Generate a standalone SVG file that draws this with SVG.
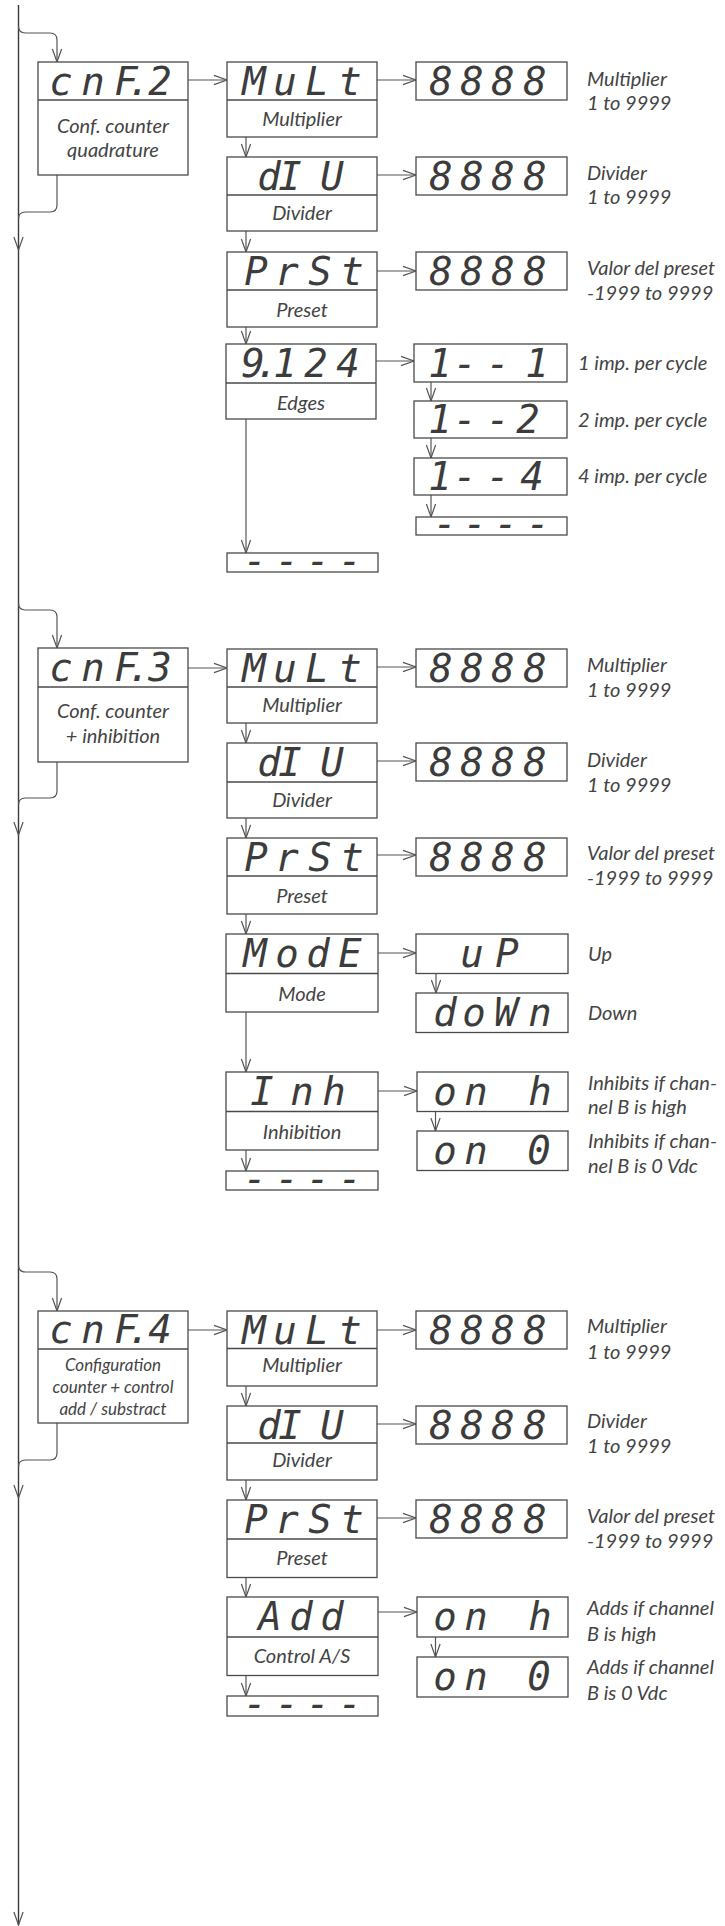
<svg xmlns="http://www.w3.org/2000/svg" width="725" height="1926" viewBox="0 0 725 1926">
<defs>
<style>
.bg{fill:#ffffff}
.box{fill:#ffffff;stroke:#4a4a4a;stroke-width:1.3}
.dv{fill:none;stroke:#4a4a4a;stroke-width:1.3}
.ln{fill:none;stroke:#555555;stroke-width:1.2}
.main{fill:none;stroke:#3a3a3a;stroke-width:1.4}
.seg{font-family:"DejaVu Sans Mono",monospace;font-style:oblique;font-size:39px;fill:#3c3c3c;text-anchor:middle}
.lbl{font-family:Lato,"Open Sans",sans-serif;font-style:italic;font-size:20px;fill:#444444}
.c{text-anchor:middle}
.sm{font-size:17px}
</style>
<marker id="ah" markerUnits="userSpaceOnUse" markerWidth="16" markerHeight="12" viewBox="-15 -6 16 12" refX="0" refY="0" orient="auto" overflow="visible">
<path d="M-13,-4.6 L0,0 L-13,4.6" fill="none" stroke="#555555" stroke-width="1.2"/>
</marker>
</defs>
<rect class="bg" x="0" y="0" width="725" height="1926"/>

<g id="connectors">
<path class="main" d="M18.5,5 V250" marker-end="url(#ah)"/>
<path class="main" d="M18.5,250 V835" marker-end="url(#ah)"/>
<path class="main" d="M18.5,835 V1498" marker-end="url(#ah)"/>
<path class="main" d="M18.5,1498 V1925" marker-end="url(#ah)"/>
<path class="ln" d="M18.5,26 Q18.5,33 25.5,33 H50 Q57,33 57,40 V62" marker-end="url(#ah)"/>
<path class="ln" d="M57,175 V205 Q57,212 50,212 H25.5 Q18.5,212 18.5,219"/>
<path class="ln" d="M188,80 H227" marker-end="url(#ah)"/>
<path class="ln" d="M377,80 H416" marker-end="url(#ah)"/>
<path class="ln" d="M246,137 V157" marker-end="url(#ah)"/>
<path class="ln" d="M377,175 H416" marker-end="url(#ah)"/>
<path class="ln" d="M246,231 V252" marker-end="url(#ah)"/>
<path class="ln" d="M377,271 H416" marker-end="url(#ah)"/>
<path class="ln" d="M246,327 V344" marker-end="url(#ah)"/>
<path class="ln" d="M376,361 H414" marker-end="url(#ah)"/>
<path class="ln" d="M431,382 V401" marker-end="url(#ah)"/>
<path class="ln" d="M431,438 V458" marker-end="url(#ah)"/>
<path class="ln" d="M431,495 V517" marker-end="url(#ah)"/>
<path class="ln" d="M246,419 V553" marker-end="url(#ah)"/>
<path class="ln" d="M18.5,603 Q18.5,610 25.5,610 H50 Q57,610 57,617 V648" marker-end="url(#ah)"/>
<path class="ln" d="M57,762 V791 Q57,798 50,798 H25.5 Q18.5,798 18.5,805"/>
<path class="ln" d="M188,668 H227" marker-end="url(#ah)"/>
<path class="ln" d="M377,667 H416" marker-end="url(#ah)"/>
<path class="ln" d="M246,723 V743" marker-end="url(#ah)"/>
<path class="ln" d="M377,761 H416" marker-end="url(#ah)"/>
<path class="ln" d="M246,818 V838" marker-end="url(#ah)"/>
<path class="ln" d="M377,855 H416" marker-end="url(#ah)"/>
<path class="ln" d="M246,914 V934" marker-end="url(#ah)"/>
<path class="ln" d="M378,953 H416" marker-end="url(#ah)"/>
<path class="ln" d="M436,973.5 V993" marker-end="url(#ah)"/>
<path class="ln" d="M246,1012 V1072" marker-end="url(#ah)"/>
<path class="ln" d="M378,1091 H417" marker-end="url(#ah)"/>
<path class="ln" d="M435.5,1111.5 V1131" marker-end="url(#ah)"/>
<path class="ln" d="M246,1150 V1171" marker-end="url(#ah)"/>
<path class="ln" d="M18.5,1265 Q18.5,1272 25.5,1272 H50 Q57,1272 57,1279 V1311" marker-end="url(#ah)"/>
<path class="ln" d="M57,1423 V1453 Q57,1460 50,1460 H25.5 Q18.5,1460 18.5,1467"/>
<path class="ln" d="M188,1330 H227" marker-end="url(#ah)"/>
<path class="ln" d="M377,1330 H416" marker-end="url(#ah)"/>
<path class="ln" d="M246,1386 V1406" marker-end="url(#ah)"/>
<path class="ln" d="M377,1424 H416" marker-end="url(#ah)"/>
<path class="ln" d="M246,1480 V1500" marker-end="url(#ah)"/>
<path class="ln" d="M377,1518 H416" marker-end="url(#ah)"/>
<path class="ln" d="M246,1577.5 V1597" marker-end="url(#ah)"/>
<path class="ln" d="M378,1612 H417" marker-end="url(#ah)"/>
<path class="ln" d="M435.5,1637 V1657" marker-end="url(#ah)"/>
<path class="ln" d="M246,1676 V1696" marker-end="url(#ah)"/>
</g>

<g id="cnf2">
<rect class="box" x="38" y="62" width="150" height="113"/>
<path class="dv" d="M38,100 H188"/>
<text class="seg" x="61 93 126 139 160" y="95">cnF.2</text>
<text class="lbl c" x="113" y="133">Conf. counter</text>
<text class="lbl c" x="113" y="157">quadrature</text>
</g>
<g id="s1-mult">
<rect class="box" x="227" y="62" width="150" height="75"/>
<path class="dv" d="M227,100 H377"/>
<text class="seg" x="254 285 317 350" y="95">MuLt</text>
<text class="lbl c" x="302" y="126">Multiplier</text>
</g>
<g id="s1-mult-val">
<rect class="box" x="416" y="62" width="151" height="38"/>
<text class="seg" x="441 472 503 535" y="95">8888</text>
<text class="lbl" x="587" y="86">Multiplier</text>
<text class="lbl" x="587" y="110">1 to 9999</text>
</g>
<g id="s1-div">
<rect class="box" x="227" y="157" width="150" height="74"/>
<path class="dv" d="M227,195 H377"/>
<text class="seg" x="269 290 332" y="190">dIU</text>
<text class="lbl c" x="302" y="220">Divider</text>
</g>
<g id="s1-div-val">
<rect class="box" x="416" y="157" width="151" height="38"/>
<text class="seg" x="441 472 503 535" y="190">8888</text>
<text class="lbl" x="587" y="180">Divider</text>
<text class="lbl" x="587" y="204">1 to 9999</text>
</g>
<g id="s1-prst">
<rect class="box" x="227" y="252" width="150" height="75"/>
<path class="dv" d="M227,290 H377"/>
<text class="seg" x="256 287 320 352" y="285">PrSt</text>
<text class="lbl c" x="302" y="317">Preset</text>
</g>
<g id="s1-prst-val">
<rect class="box" x="416" y="252" width="151" height="38"/>
<text class="seg" x="441 472 503 535" y="285">8888</text>
<text class="lbl" x="587" y="275">Valor del preset</text>
<text class="lbl" x="587" y="300">-1999 to 9999</text>
</g>
<g id="s1-edges">
<rect class="box" x="226" y="344" width="150" height="75"/>
<path class="dv" d="M226,383 H376"/>
<text class="seg" x="253 267 285 316 348" y="377">9.124</text>
<text class="lbl c" x="301" y="410">Edges</text>
</g>
<g id="s1-e1">
<rect class="box" x="414" y="344" width="153" height="38"/>
<text class="seg" x="440 465 498 537" y="377">1--1</text>
<text class="lbl" x="578" y="370">1 imp. per cycle</text>
</g>
<g id="s1-e2">
<rect class="box" x="414" y="401" width="153" height="37"/>
<text class="seg" x="440 465 498 528" y="433">1--2</text>
<text class="lbl" x="578" y="427">2 imp. per cycle</text>
</g>
<g id="s1-e4">
<rect class="box" x="414" y="458" width="153" height="37"/>
<text class="seg" x="440 465 498 532" y="490">1--4</text>
<text class="lbl" x="578" y="483">4 imp. per cycle</text>
</g>
<g id="s1-e-end">
<rect class="box" x="416" y="517" width="151" height="18"/>
<text class="seg" x="445 475 506 538" y="537">----</text>
</g>
<g id="s1-end">
<rect class="box" x="227" y="553" width="151" height="19"/>
<text class="seg" x="255 287 318 350" y="574">----</text>
</g>

<g id="cnf3">
<rect class="box" x="38" y="648" width="150" height="114"/>
<path class="dv" d="M38,687 H188"/>
<text class="seg" x="61 93 126 139 160" y="681">cnF.3</text>
<text class="lbl c" x="113" y="718">Conf. counter</text>
<text class="lbl c" x="113" y="743">+ inhibition</text>
</g>
<g id="s2-mult">
<rect class="box" x="227" y="649" width="150" height="74"/>
<path class="dv" d="M227,687 H377"/>
<text class="seg" x="254 285 317 350" y="682">MuLt</text>
<text class="lbl c" x="302" y="712">Multiplier</text>
</g>
<g id="s2-mult-val">
<rect class="box" x="416" y="649" width="151" height="38"/>
<text class="seg" x="441 472 503 535" y="682">8888</text>
<text class="lbl" x="587" y="672">Multiplier</text>
<text class="lbl" x="587" y="697">1 to 9999</text>
</g>
<g id="s2-div">
<rect class="box" x="227" y="743" width="150" height="75"/>
<path class="dv" d="M227,782 H377"/>
<text class="seg" x="269 290 332" y="776">dIU</text>
<text class="lbl c" x="302" y="807">Divider</text>
</g>
<g id="s2-div-val">
<rect class="box" x="416" y="743" width="151" height="38"/>
<text class="seg" x="441 472 503 535" y="776">8888</text>
<text class="lbl" x="587" y="767">Divider</text>
<text class="lbl" x="587" y="792">1 to 9999</text>
</g>
<g id="s2-prst">
<rect class="box" x="227" y="838" width="150" height="76"/>
<path class="dv" d="M227,876 H377"/>
<text class="seg" x="256 287 320 352" y="871">PrSt</text>
<text class="lbl c" x="302" y="903">Preset</text>
</g>
<g id="s2-prst-val">
<rect class="box" x="416" y="838" width="151" height="38"/>
<text class="seg" x="441 472 503 535" y="871">8888</text>
<text class="lbl" x="587" y="860">Valor del preset</text>
<text class="lbl" x="587" y="885">-1999 to 9999</text>
</g>
<g id="s2-mode">
<rect class="box" x="226" y="934" width="152" height="78"/>
<path class="dv" d="M226,973.5 H378"/>
<text class="seg" x="255 287 318 350" y="967">ModE</text>
<text class="lbl c" x="302" y="1001">Mode</text>
</g>
<g id="s2-up">
<rect class="box" x="416" y="934" width="152" height="39.5"/>
<text class="seg" x="472 507" y="967">uP</text>
<text class="lbl" x="588" y="961">Up</text>
</g>
<g id="s2-down">
<rect class="box" x="416" y="993" width="152" height="39.5"/>
<text class="seg" x="445 474 506 540" y="1026">doWn</text>
<text class="lbl" x="588" y="1020">Down</text>
</g>
<g id="s2-inh">
<rect class="box" x="226" y="1072" width="152" height="78"/>
<path class="dv" d="M226,1111.5 H378"/>
<text class="seg" x="262 302 334" y="1105">Inh</text>
<text class="lbl c" x="302" y="1139">Inhibition</text>
</g>
<g id="s2-onh">
<rect class="box" x="417" y="1072" width="151" height="39.5"/>
<text class="seg" x="445 476 540" y="1105">onh</text>
<text class="lbl" x="588" y="1090">Inhibits if  chan-</text>
<text class="lbl" x="588" y="1114">nel B is high</text>
</g>
<g id="s2-on0">
<rect class="box" x="417" y="1131" width="151" height="39.5"/>
<text class="seg" x="445 476 539" y="1164">on0</text>
<text class="lbl" x="588" y="1148">Inhibits if chan-</text>
<text class="lbl" x="588" y="1173">nel B is 0 Vdc</text>
</g>
<g id="s2-end">
<rect class="box" x="226" y="1171" width="152" height="19"/>
<text class="seg" x="255 287 318 350" y="1192">----</text>
</g>

<g id="cnf4">
<rect class="box" x="38" y="1311" width="150" height="112"/>
<path class="dv" d="M38,1349 H188"/>
<text class="seg" x="61 93 126 139 160" y="1343">cnF.4</text>
<text class="lbl sm c" x="113" y="1371">Configuration</text>
<text class="lbl sm c" x="113" y="1393">counter + control</text>
<text class="lbl sm c" x="113" y="1415">add / substract</text>
</g>
<g id="s3-mult">
<rect class="box" x="227" y="1311" width="150" height="75"/>
<path class="dv" d="M227,1348.5 H377"/>
<text class="seg" x="254 285 317 350" y="1344">MuLt</text>
<text class="lbl c" x="302" y="1372">Multiplier</text>
</g>
<g id="s3-mult-val">
<rect class="box" x="416" y="1311" width="151" height="38"/>
<text class="seg" x="441 472 503 535" y="1344">8888</text>
<text class="lbl" x="587" y="1333">Multiplier</text>
<text class="lbl" x="587" y="1359">1 to 9999</text>
</g>
<g id="s3-div">
<rect class="box" x="227" y="1406" width="150" height="74"/>
<path class="dv" d="M227,1443 H377"/>
<text class="seg" x="269 290 332" y="1439">dIU</text>
<text class="lbl c" x="302" y="1467">Divider</text>
</g>
<g id="s3-div-val">
<rect class="box" x="416" y="1406" width="151" height="38"/>
<text class="seg" x="441 472 503 535" y="1439">8888</text>
<text class="lbl" x="587" y="1428">Divider</text>
<text class="lbl" x="587" y="1453">1 to 9999</text>
</g>
<g id="s3-prst">
<rect class="box" x="227" y="1500" width="150" height="77.5"/>
<path class="dv" d="M227,1539 H377"/>
<text class="seg" x="256 287 320 352" y="1533">PrSt</text>
<text class="lbl c" x="302" y="1565">Preset</text>
</g>
<g id="s3-prst-val">
<rect class="box" x="416" y="1500" width="151" height="38"/>
<text class="seg" x="441 472 503 535" y="1533">8888</text>
<text class="lbl" x="587" y="1523">Valor del preset</text>
<text class="lbl" x="587" y="1548">-1999 to 9999</text>
</g>
<g id="s3-add">
<rect class="box" x="227" y="1597" width="151" height="78.5"/>
<path class="dv" d="M227,1637 H378"/>
<text class="seg" x="270 301 332" y="1630">Add</text>
<text class="lbl c" x="302" y="1663">Control A/S</text>
</g>
<g id="s3-onh">
<rect class="box" x="417" y="1597" width="151" height="40"/>
<text class="seg" x="445 476 540" y="1630">onh</text>
<text class="lbl" x="587" y="1615">Adds if channel</text>
<text class="lbl" x="587" y="1641">B is high</text>
</g>
<g id="s3-on0">
<rect class="box" x="417" y="1657" width="151" height="40"/>
<text class="seg" x="445 476 539" y="1690">on0</text>
<text class="lbl" x="587" y="1674">Adds if channel</text>
<text class="lbl" x="587" y="1700">B is  0 Vdc</text>
</g>
<g id="s3-end">
<rect class="box" x="227" y="1696" width="151" height="20"/>
<text class="seg" x="255 287 318 350" y="1717">----</text>
</g>
</svg>
